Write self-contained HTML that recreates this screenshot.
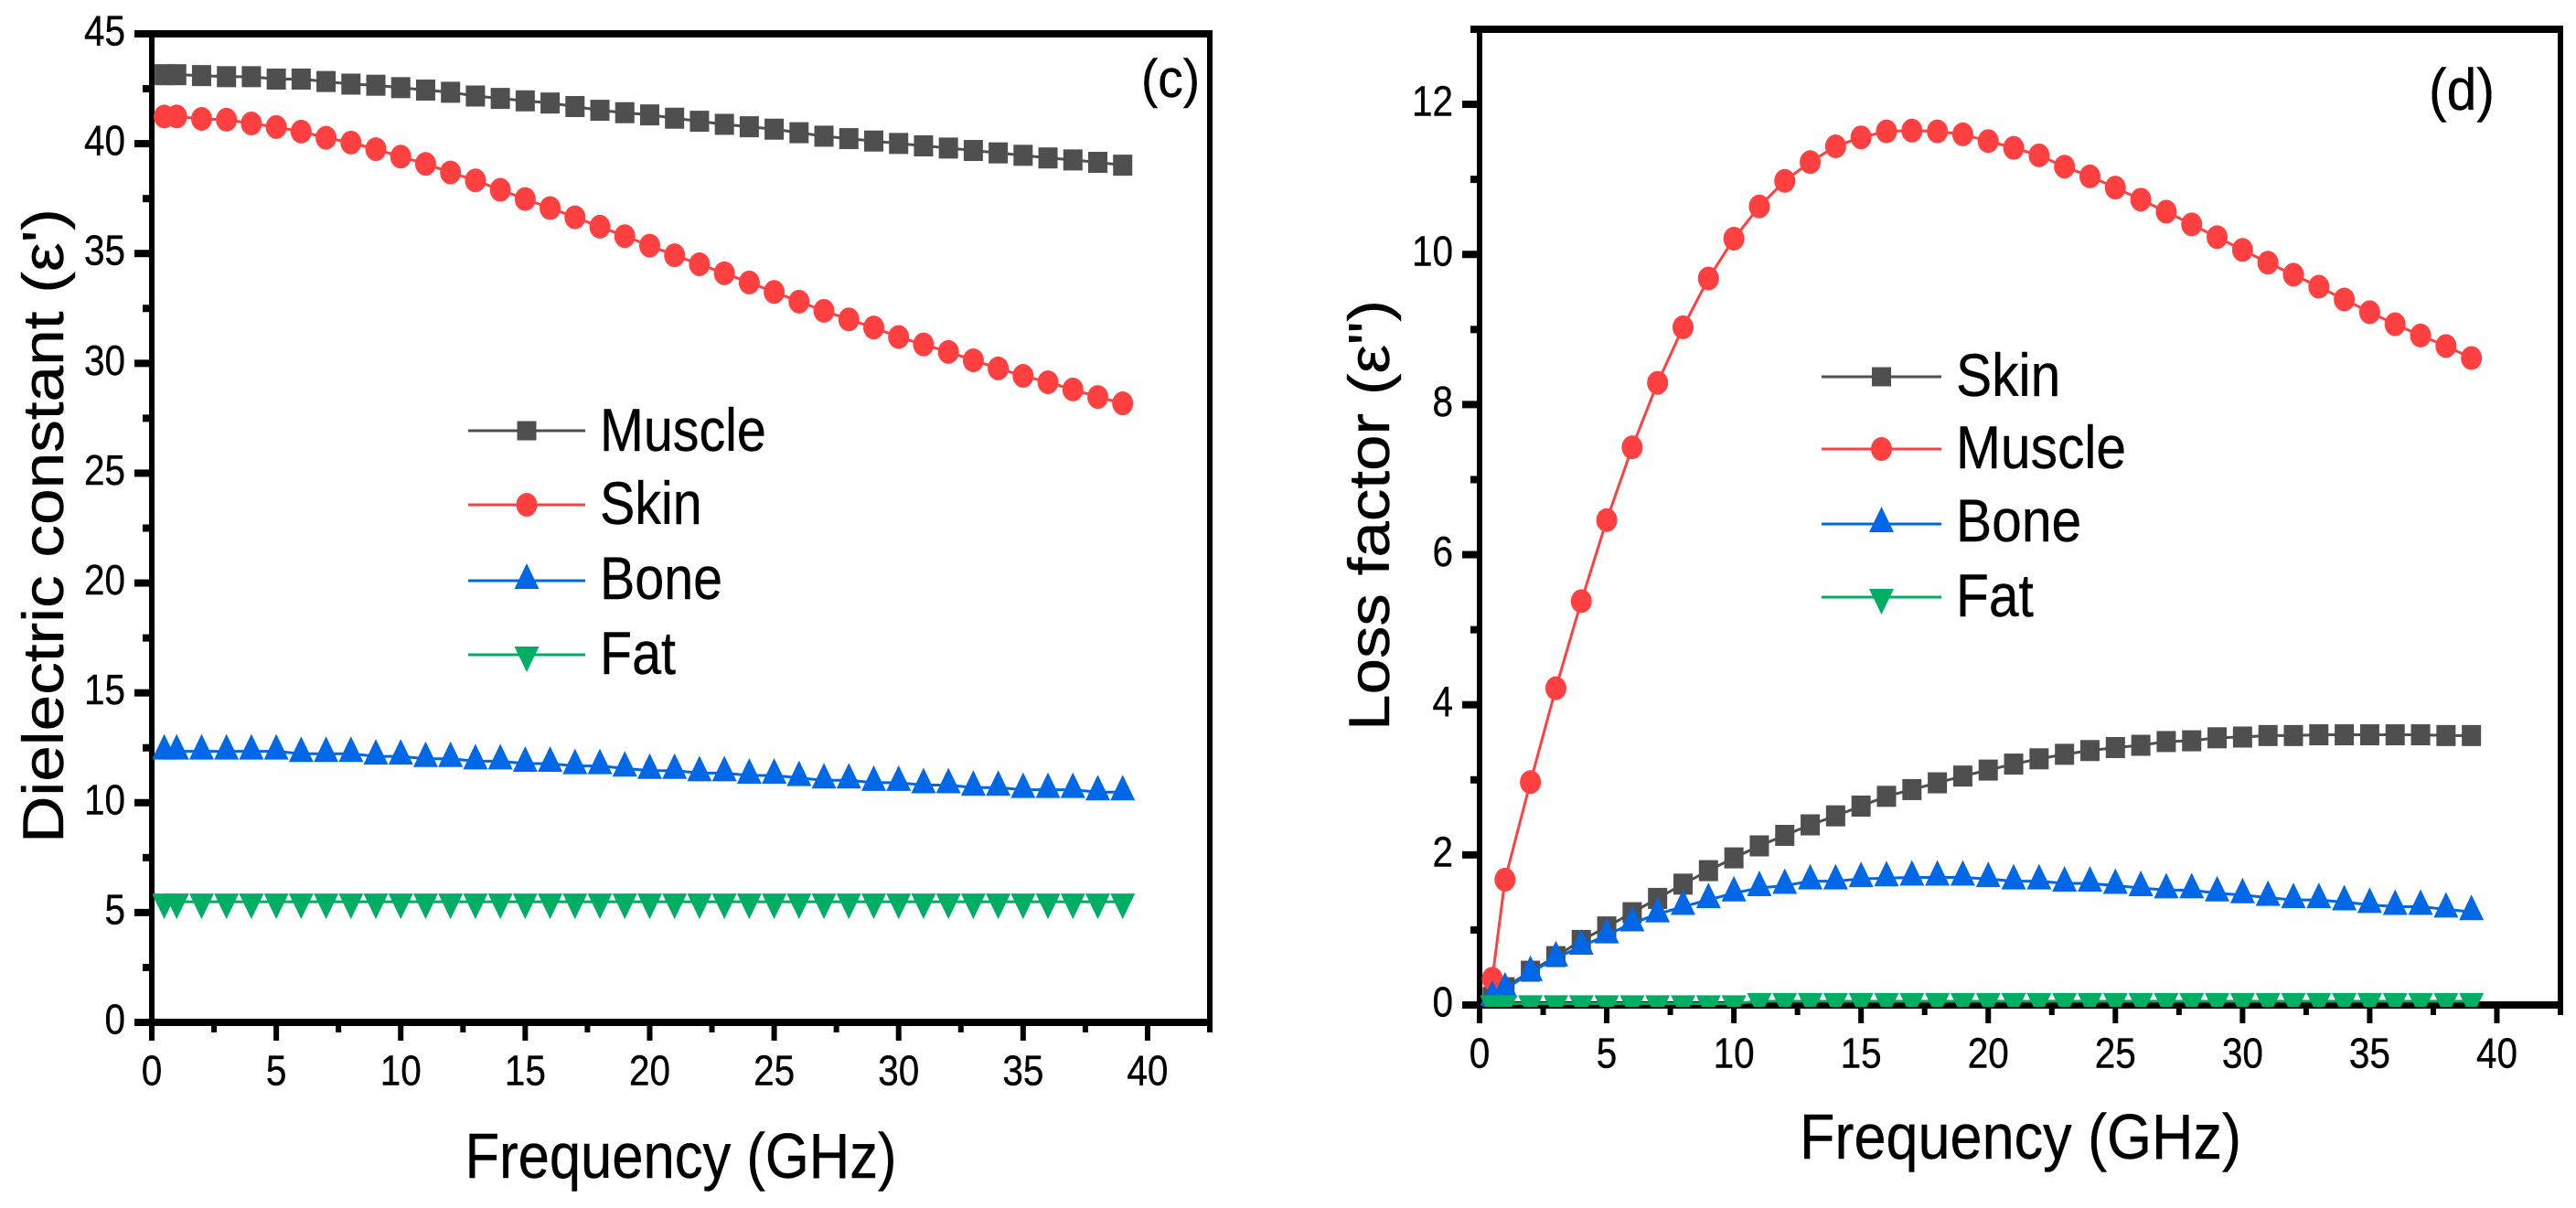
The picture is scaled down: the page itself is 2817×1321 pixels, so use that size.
<!DOCTYPE html>
<html lang="en">
<head>
<meta charset="utf-8">
<title>Dielectric constant and loss factor of tissues</title>
<style>
  html, body { margin: 0; padding: 0; background: #fff; }
  svg { display: block; }
  text { font-family: "Liberation Sans", sans-serif; fill: #000; stroke: #000; stroke-width: 0.4px; }
</style>
</head>
<body>
<svg id="figure" xmlns="http://www.w3.org/2000/svg" width="2817" height="1321" viewBox="0 0 2817 1321">
  <rect width="2817" height="1321" fill="#fff"></rect>
  <defs>
    <clipPath id="clip-c"><rect x="167" y="30" width="1156" height="1090"></rect></clipPath>
    <clipPath id="clip-d"><rect x="1619" y="25" width="1181" height="1076"></rect></clipPath>
  </defs>
  <g id="panel-c">
    <text transform="translate(69,922) rotate(-90)" font-size="63" textLength="694" lengthAdjust="spacingAndGlyphs">Dielectric constant (ε')</text>
    <text x="508.5" y="1288" font-size="70" textLength="472" lengthAdjust="spacingAndGlyphs">Frequency (GHz)</text>
    <text x="1248" y="106" font-size="58" textLength="64" lengthAdjust="spacingAndGlyphs">(c)</text>
  </g>
  <g id="panel-d">
    <text transform="translate(1519,799) rotate(-90)" font-size="63" textLength="471" lengthAdjust="spacingAndGlyphs">Loss factor (ε")</text>
    <text x="1968" y="1267" font-size="70" textLength="483" lengthAdjust="spacingAndGlyphs">Frequency (GHz)</text>
    <text x="2656" y="120" font-size="64" textLength="72" lengthAdjust="spacingAndGlyphs">(d)</text>
  </g>
</svg>
<script>
// ---- data ----
const frequencies = [0.5,1,2,3,4,5,6,7,8,9,10,11,12,13,14,15,16,17,18,19,20,21,22,23,24,25,26,27,28,29,30,31,32,33,34,35,36,37,38,39];

const cMuscle = [43.14,43.14,43.10,43.05,43.05,42.94,42.94,42.83,42.71,42.66,42.55,42.44,42.34,42.17,42.06,41.95,41.85,41.69,41.52,41.41,41.31,41.16,41.02,40.88,40.77,40.66,40.50,40.34,40.23,40.12,40.01,39.90,39.80,39.69,39.58,39.47,39.35,39.26,39.15,39.02];
const cSkin = [41.24,41.24,41.13,41.09,40.92,40.76,40.55,40.27,40.05,39.75,39.41,39.08,38.69,38.33,37.90,37.48,37.07,36.65,36.22,35.79,35.36,34.92,34.51,34.10,33.68,33.25,32.81,32.39,32.00,31.63,31.20,30.86,30.52,30.14,29.77,29.43,29.14,28.81,28.47,28.18];
const cBone = [12.34,12.34,12.34,12.34,12.34,12.34,12.23,12.23,12.23,12.11,12.11,12.00,12.00,11.89,11.89,11.78,11.78,11.67,11.67,11.56,11.46,11.46,11.35,11.35,11.24,11.24,11.13,11.02,11.02,10.91,10.91,10.80,10.80,10.69,10.69,10.59,10.59,10.59,10.48,10.48];
const cFat = [5.49,5.49,5.49,5.49,5.49,5.49,5.49,5.49,5.49,5.49,5.49,5.49,5.49,5.49,5.49,5.49,5.49,5.49,5.49,5.49,5.49,5.49,5.49,5.49,5.49,5.49,5.49,5.49,5.49,5.49,5.49,5.49,5.49,5.49,5.49,5.49,5.49,5.49,5.49,5.49];

const dSkin = [0.10,0.23,0.45,0.645,0.86,1.04,1.23,1.42,1.61,1.79,1.96,2.12,2.26,2.40,2.52,2.65,2.78,2.87,2.96,3.05,3.13,3.21,3.28,3.34,3.39,3.43,3.46,3.51,3.52,3.56,3.57,3.59,3.59,3.60,3.60,3.60,3.60,3.60,3.59,3.59];
const dMuscle = [0.35,1.67,2.97,4.22,5.38,6.46,7.43,8.29,9.03,9.68,10.21,10.64,10.98,11.23,11.44,11.56,11.64,11.65,11.64,11.60,11.51,11.42,11.32,11.17,11.04,10.89,10.73,10.57,10.40,10.23,10.06,9.89,9.73,9.57,9.40,9.23,9.07,8.92,8.78,8.62];
const dBone = [0.10,0.21,0.43,0.625,0.78,0.93,1.09,1.21,1.31,1.40,1.49,1.56,1.59,1.65,1.65,1.68,1.69,1.70,1.70,1.70,1.68,1.65,1.65,1.62,1.62,1.59,1.56,1.53,1.53,1.49,1.465,1.43,1.40,1.40,1.37,1.335,1.31,1.31,1.275,1.24];
const dFat = [0.02,0.02,0.02,0.02,0.02,0.02,0.02,0.02,0.02,0.02,0.02,0.05,0.05,0.05,0.05,0.05,0.05,0.05,0.05,0.05,0.05,0.05,0.05,0.05,0.05,0.05,0.05,0.05,0.05,0.05,0.05,0.05,0.05,0.05,0.05,0.05,0.05,0.05,0.05,0.05];

const xTickLabels = [0,5,10,15,20,25,30,35,40];
const cYTickLabels = [0,5,10,15,20,25,30,35,40,45];
const dYTickLabels = [0,2,4,6,8,10,12];

const legendNamesC = ['Muscle','Skin','Bone','Fat'];
const legendNamesD = ['Skin','Muscle','Bone','Fat'];

// ---- styles ----
const COLORS = { gray: '#4f4f4f', red: '#ff4040', blue: '#0068e6', green: '#00ae63' };
const NS = 'http://www.w3.org/2000/svg';

function make(parent, tag, attrs) {
  const el = document.createElementNS(NS, tag);
  for (const k in attrs) el.setAttribute(k, attrs[k]);
  parent.appendChild(el);
  return el;
}

function drawMarker(parent, kind, cx, cy, color, small) {
  let el;
  if (kind === 'square') {
    const h = small ? 21 : 23;
    el = make(parent, 'rect', { x: cx - 10.5, y: cy - h / 2, width: 21, height: h, fill: color });
  } else if (kind === 'circle') {
    el = make(parent, 'ellipse', { cx: cx, cy: cy, rx: 11.5, ry: 13, fill: color });
  } else if (kind === 'up') {
    el = make(parent, 'polygon', { points: [cx - 13.5, cy + 9, cx + 13.5, cy + 9, cx, cy - 19].join(' '), fill: color });
  } else {
    el = make(parent, 'polygon', { points: [cx - 13.5, cy - 9, cx + 13.5, cy - 9, cx, cy + 19].join(' '), fill: color });
  }
  
  
  return el;
}

function drawPanel(cfg) {
  const root = document.getElementById(cfg.id);
  const xOf = v => cfg.left + (v / 42.5) * (cfg.right - cfg.left);
  const yOf = v => cfg.bottom - (v / cfg.yMax) * (cfg.bottom - cfg.top);

  // axes
  const axes = make(root, 'g', {});
  
  

  const frame = [
    ['left-axis-line', cfg.left - 3, cfg.top - 4, 6, cfg.bottom - cfg.top + 8],
    ['right-axis-line', cfg.right - 3, cfg.top - 4, 6, cfg.bottom - cfg.top + 14],
    ['top-axis-line', cfg.left - cfg.topOver, cfg.top - 4, cfg.right + 3 - cfg.left + cfg.topOver, 8],
    ['bottom-axis-line', cfg.left - 19, cfg.bottom - 4, cfg.right + 3 - cfg.left + 19, 8]
  ];
  frame.forEach(f => {
    const line = make(axes, 'rect', { x: f[1], y: f[2], width: f[3], height: f[4], fill: '#000' });
    
    
  });

  // x ticks
  for (let v = 0; v <= 42.5; v += 2.5) {
    const major = v % 5 === 0;
    const t = make(axes, 'rect', { x: xOf(v) - 3, y: cfg.bottom, width: 6, height: major ? 20 : 11, fill: '#000' });
    
    
  }
  xTickLabels.forEach(v => {
    const t = make(axes, 'text', { transform: 'translate(' + xOf(v) + ',' + (cfg.bottom + 68.5) + ') scale(0.88,1)', 'font-size': 46, 'text-anchor': 'middle' });
    t.textContent = v;
    
    
  });

  // y ticks
  for (let v = 0; v <= cfg.yMax; v += cfg.yStep / 2) {
    const major = v % cfg.yStep === 0;
    const w = major ? 19 : 10;
    const t = make(axes, 'rect', { x: cfg.left - w, y: yOf(v) - 4, width: w, height: 8, fill: '#000' });
    
    
  }
  cfg.yLabels.forEach(v => {
    const t = make(axes, 'text', { transform: 'translate(' + (cfg.left - 29) + ',' + (yOf(v) + 12.5) + ') scale(0.88,1)', 'font-size': 46, 'text-anchor': 'end' });
    t.textContent = v;
    
    
  });

  // series
  const plot = make(root, 'g', { 'clip-path': 'url(#' + cfg.clip + ')' });
  
  
  cfg.series.forEach(s => {
    const g = make(plot, 'g', {});
    
    
    const pts = frequencies.map((f, i) => xOf(f) + ',' + yOf(s.values[i])).join(' ');
    const line = make(g, 'polyline', { points: pts, fill: 'none', stroke: s.color, 'stroke-width': 3 });
    
    
    frequencies.forEach((f, i) => drawMarker(g, s.kind, xOf(f), yOf(s.values[i]), s.color, false));
  });

  // legend
  const legend = make(root, 'g', {});
  
  
  cfg.series.forEach((s, i) => {
    const entry = make(legend, 'g', {});
    
    
    const ly = cfg.legend.ys[i];
    const line = make(entry, 'rect', { x: cfg.legend.x0, y: ly - 1.5, width: cfg.legend.x1 - cfg.legend.x0, height: 3, fill: s.color });
    
    
    drawMarker(entry, s.kind, (cfg.legend.x0 + cfg.legend.x1) / 2, ly, s.color, true);
    const t = make(entry, 'text', { transform: 'translate(' + cfg.legend.tx + ',' + cfg.legend.bases[i] + ') scale(' + cfg.legend.squeeze + ',1)', 'font-size': 66 });
    t.textContent = cfg.legend.names[i];
    
    
  });
}

drawPanel({
  id: 'panel-c', clip: 'clip-c',
  left: 166, right: 1323, top: 37, bottom: 1118, yMax: 45, yStep: 5, topOver: 19,
  yLabels: cYTickLabels,
  series: [
    { name: 'Muscle', values: cMuscle, color: COLORS.gray, kind: 'square' },
    { name: 'Skin', values: cSkin, color: COLORS.red, kind: 'circle' },
    { name: 'Bone', values: cBone, color: COLORS.blue, kind: 'up' },
    { name: 'Fat', values: cFat, color: COLORS.green, kind: 'down' }
  ],
  legend: { names: legendNamesC, squeeze: 0.87, x0: 512, x1: 640, tx: 656, ys: [471, 552, 635, 716], bases: [493, 573, 655, 737] }
});

drawPanel({
  id: 'panel-d', clip: 'clip-d',
  left: 1618, right: 2800, top: 32, bottom: 1099, yMax: 13, yStep: 2, topOver: 10,
  yLabels: dYTickLabels,
  series: [
    { name: 'Skin', values: dSkin, color: COLORS.gray, kind: 'square' },
    { name: 'Muscle', values: dMuscle, color: COLORS.red, kind: 'circle' },
    { name: 'Bone', values: dBone, color: COLORS.blue, kind: 'up' },
    { name: 'Fat', values: dFat, color: COLORS.green, kind: 'down' }
  ],
  legend: { names: legendNamesD, squeeze: 0.89, x0: 1992, x1: 2123, tx: 2139, ys: [412, 491, 573, 653], bases: [433, 512, 592, 674] }
});
</script>
</body>
</html>
